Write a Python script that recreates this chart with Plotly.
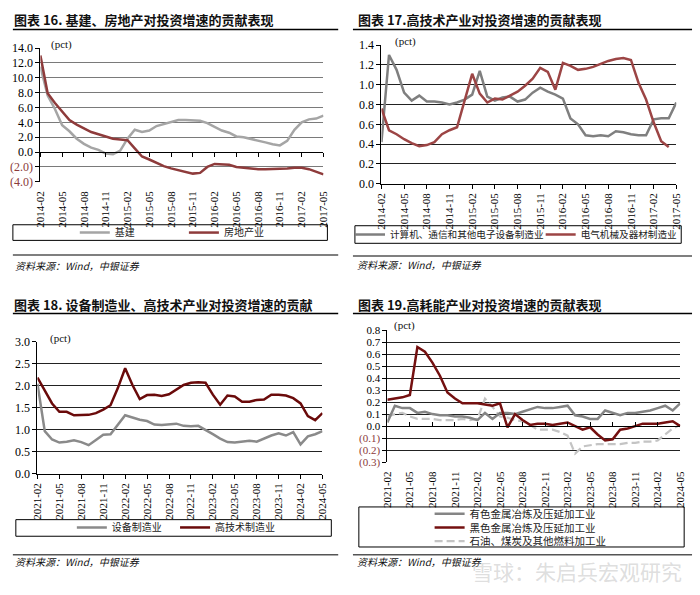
import plotly.graph_objects as go

W, H = 700, 595
SERIF = "Liberation Serif"
CJK = "Noto Sans CJK SC"
NEG = "#8b3a3a"


def px(x):
    return x / W


def py(y):
    return 1 - y / H


def month_labels(year, month, n):
    out = []
    for _ in range(n):
        out.append(f"{year}-{month:02d}")
        month += 1
        if month > 12:
            year, month = year + 1, 1
    return out


def fmt(v, nd):
    s = f"{abs(v):.{nd}f}"
    return f'<span style="color:{NEG}">({s})</span>' if v < 0 else s


months_a = month_labels(2014, 2, 40)
months_b = month_labels(2021, 2, 40)

# 图表16 基建、房地产 (pct)
infra = [11.5, 7.6, 5.8, 3.6, 2.8, 1.8, 1.1, 0.6, 0.3, -0.2, -0.3, 0.2, 1.8, 3.0,
         2.7, 2.9, 3.5, 3.8, 4.1, 4.3, 4.3, 4.3, 4.2, 3.9, 3.4, 2.9, 2.6, 2.1, 2.0,
         1.8, 1.5, 1.3, 1.05, 0.9, 1.5, 3.0, 4.0, 4.4, 4.5, 4.9]
realestate = [13.0, 7.9, 6.6, 5.5, 4.3, 3.7, 3.2, 2.7, 2.4, 2.1, 1.8, 1.7, 1.6, 0.5,
              -0.6, -1.0, -1.5, -1.9, -2.2, -2.4, -2.7, -2.9, -2.8, -2.0, -1.6, -1.6,
              -1.7, -2.0, -2.1, -2.2, -2.3, -2.3, -2.3, -2.3, -2.2, -2.1, -2.1, -2.3,
              -2.6, -3.0]

# 图表17 高技术产业
computers = [0.42, 1.30, 1.15, 0.92, 0.84, 0.89, 0.83, 0.83, 0.82, 0.80, 0.82, 0.85,
             0.90, 1.14, 0.88, 0.84, 0.87, 0.88, 0.83, 0.85, 0.92, 0.97, 0.93, 0.90,
             0.86, 0.66, 0.60, 0.49, 0.48, 0.49, 0.48, 0.53, 0.52, 0.50, 0.49, 0.49,
             0.65, 0.66, 0.66, 0.82]
electrical = [0.76, 0.54, 0.50, 0.45, 0.41, 0.38, 0.39, 0.42, 0.50, 0.54, 0.57, 0.85,
              1.11, 0.91, 0.82, 0.86, 0.85, 0.89, 0.93, 0.99, 1.06, 1.17, 1.13, 0.95,
              1.22, 1.19, 1.15, 1.16, 1.18, 1.21, 1.24, 1.26, 1.27, 1.25, 1.02, 0.85,
              0.62, 0.43, 0.37, None]

# 图表18 设备制造业、高技术制造业
equipment = [2.05, 0.97, 0.78, 0.71, 0.73, 0.76, 0.72, 0.65, 0.77, 0.89, 0.90, 1.12,
             1.33, 1.28, 1.23, 1.20, 1.12, 1.11, 1.12, 1.14, 1.09, 1.08, 1.09, 1.00,
             0.90, 0.80, 0.72, 0.71, 0.73, 0.75, 0.73, 0.80, 0.87, 0.92, 0.87, 0.95,
             0.67, 0.85, 0.90, 0.97]
hightech = [2.19, 1.90, 1.60, 1.41, 1.41, 1.33, 1.33, 1.34, 1.38, 1.46, 1.56, 1.95,
            2.40, 2.02, 1.70, 1.79, 1.80, 1.77, 1.81, 1.91, 2.02, 2.07, 2.08, 2.07,
            1.80, 1.57, 1.78, 1.76, 1.64, 1.64, 1.68, 1.69, 1.80, 1.80, 1.78, 1.72,
            1.60, 1.31, 1.22, 1.38]

# 图表19 高耗能产业
nonferrous = [0.03, 0.17, 0.15, 0.15, 0.11, 0.12, 0.10, 0.09, 0.09, 0.08, 0.08, 0.07,
              0.05, 0.11, 0.06, 0.11, 0.11, 0.10, 0.12, 0.14, 0.16, 0.15, 0.15, 0.16,
              0.17, 0.09, 0.08, 0.06, 0.06, 0.13, 0.11, 0.09, 0.11, 0.11, 0.12, 0.13,
              0.15, 0.17, 0.13, 0.19]
ferrous = [0.22, 0.23, 0.24, 0.26, 0.66, 0.62, 0.53, 0.42, 0.28, 0.23, 0.19, 0.19,
           0.19, 0.18, 0.17, 0.19, -0.01, 0.10, 0.05, 0.01, 0.02, 0.02, 0.01, 0.02,
           0.03, 0.00, -0.03, -0.01, -0.07, -0.12, -0.11, -0.03, -0.02, 0.00, 0.02,
           0.02, 0.02, 0.03, 0.04, 0.00]
petroleum = [0.08, 0.10, 0.11, 0.08, 0.06, 0.06, 0.06, 0.05, 0.05, 0.05, 0.06, 0.05,
             0.06, 0.23, 0.16, 0.08, 0.07, 0.05, 0.04, 0.01, -0.03, -0.03, -0.03, -0.05,
             -0.08, -0.23, -0.17, -0.16, -0.15, -0.15, -0.15, -0.15, -0.14, -0.14,
             -0.13, -0.13, -0.12, -0.07, -0.02, 0.01]

ticks16 = [-4, -2, 0, 2, 4, 6, 8, 10, 12, 14]
ticks17 = [0, 0.2, 0.4, 0.6, 0.8, 1.0, 1.2, 1.4]
ticks18 = [0, 0.5, 1.0, 1.5, 2.0, 2.5, 3.0]
ticks19 = [-0.3, -0.2, -0.1, 0, 0.1, 0.2, 0.3, 0.4, 0.5, 0.6, 0.7, 0.8]

# plot boxes in pixels: left, top, right, bottom
box1 = (35, 42, 323, 179)
box2 = (382, 39, 682, 181)
box3 = (32, 343, 322, 478)
box4 = (388, 331, 686, 466)

fig = go.Figure()


def line(x, y, name, color, ax, legend, width=2.5, dash="solid"):
    fig.add_trace(go.Scatter(
        x=x, y=y, name=name, mode="lines", xaxis=ax[0], yaxis=ax[1],
        legend=legend, line=dict(color=color, width=width, dash=dash),
        connectgaps=False, hoverinfo="x+y+name"))


line(months_a, infra, "基建", "#a5a5a5", ("x", "y"), "legend")
line(months_a, realestate, "房地产业", "#8e3b3b", ("x", "y"), "legend2")
line(months_a, computers, "计算机、通信和其他电子设备制造业", "#7f7f7f", ("x2", "y2"), "legend3")
line(months_a, electrical, "电气机械及器材制造业", "#9c4545", ("x2", "y2"), "legend4")
line(months_b, equipment, "设备制造业", "#8a8a8a", ("x3", "y3"), "legend5")
line(months_b, hightech, "高技术制造业", "#6a0a0a", ("x3", "y3"), "legend6")
line(months_b, petroleum, "石油、煤炭及其他燃料加工业", "#c4c4c4", ("x4", "y4"), "legend9", 2.2, "8px,4px")
line(months_b, nonferrous, "有色金属冶炼及压延加工业", "#858585", ("x4", "y4"), "legend7")
line(months_b, ferrous, "黑色金属冶炼及压延加工业", "#741010", ("x4", "y4"), "legend8")

# empty traces that carry the zero-line axes of panels 16 and 19
fig.add_trace(go.Scatter(x=months_a, y=[None] * len(months_a), xaxis="x5", yaxis="y",
                         showlegend=False, hoverinfo="skip"))
fig.add_trace(go.Scatter(x=months_b, y=[None] * len(months_b), xaxis="x6", yaxis="y4",
                         showlegend=False, hoverinfo="skip"))


def xaxis(box, ya, months, show_line=True):
    return dict(
        domain=[px(box[0]), px(box[2])], anchor=ya, type="category",
        range=[0, len(months) - 1], tickvals=months[::3], tickangle=-90,
        ticks="outside", ticklen=4,
        tickcolor="black" if show_line else "rgba(0,0,0,0)",
        showline=show_line, linecolor="black", linewidth=1, showgrid=False,
        tickfont=dict(family=SERIF, size=11, color="black"), fixedrange=True)


def zero_axis(base, box, rng, months, ticks):
    zero_px = box[3] - (box[3] - box[1]) * (0 - rng[0]) / (rng[1] - rng[0])
    return dict(
        overlaying=base, anchor="free", position=py(zero_px), type="category",
        range=[0, len(months) - 1], tickvals=months[::3], showticklabels=False,
        ticks=ticks, ticklen=4, tickcolor="black", showline=True,
        linecolor="black", linewidth=1, showgrid=False, fixedrange=True)


def yaxis(box, xa, rng, ticks, nd, grid, size=12):
    return dict(
        domain=[py(box[3]), py(box[1])], anchor=xa, range=rng,
        tickvals=ticks, ticktext=[fmt(v, nd) for v in ticks],
        showgrid=True, gridcolor=grid, gridwidth=1, zeroline=False,
        showline=True, linecolor="black", linewidth=1, ticks="outside",
        ticklen=4, tickcolor="black",
        tickfont=dict(family=SERIF, size=size, color="black"), fixedrange=True)


rng1, rng4 = [-4, 14], [-0.3, 0.8]

layout = dict(
    width=W, height=H, margin=dict(l=0, r=0, t=0, b=0),
    paper_bgcolor="white", plot_bgcolor="white",
    xaxis=xaxis(box1, "y", months_a, show_line=False),
    xaxis2=xaxis(box2, "y2", months_a),
    xaxis3=xaxis(box3, "y3", months_b),
    xaxis4=xaxis(box4, "y4", months_b, show_line=False),
    xaxis5=zero_axis("x", box1, rng1, months_a, "outside"),
    xaxis6=zero_axis("x4", box4, rng4, months_b, "inside"),
    yaxis=yaxis(box1, "x", rng1, ticks16, 1, "#7a7a7a"),
    yaxis2=yaxis(box2, "x2", [0, 1.4], ticks17, 1, "#222222"),
    yaxis3=yaxis(box3, "x3", [0, 3], ticks18, 1, "#222222"),
    yaxis4=yaxis(box4, "x4", rng4, ticks19, 1, "#222222", size=11),
)

# one legend per entry so each sits where the original puts it
legend_pos = {
    "legend": (75, 231, 10),
    "legend2": (186, 231, 10),
    "legend3": (355, 233, 9.6),
    "legend4": (549, 233, 9.6),
    "legend5": (72, 533, 10),
    "legend6": (177, 533, 10),
    "legend7": (436, 519, 10.5),
    "legend8": (436, 533, 10.5),
    "legend9": (436, 547, 10.5),
}
for key, (lx, ly, size) in legend_pos.items():
    layout[key] = dict(
        x=px(lx - 5), y=py(ly), xanchor="left", yanchor="middle",
        orientation="h", bgcolor="rgba(0,0,0,0)", borderwidth=0,
        font=dict(family=CJK, size=size, color="#222"), itemwidth=30)

fig.update_layout(**layout)


def hline(x0, x1, y, color="black", width=1.5):
    fig.add_shape(type="line", xref="paper", yref="paper",
                  x0=px(x0), x1=px(x1), y0=py(y), y1=py(y),
                  line=dict(color=color, width=width))


def frame(x0, y0, x1, y1):
    fig.add_shape(type="rect", xref="paper", yref="paper",
                  x0=px(x0), x1=px(x1), y0=py(y1), y1=py(y0),
                  line=dict(color="black", width=1), fillcolor="rgba(0,0,0,0)")


def text(x, y, s, size, family=CJK, color="#111", anchor="left"):
    fig.add_annotation(xref="paper", yref="paper", x=px(x), y=py(y), text=s,
                       showarrow=False, xanchor=anchor, yanchor="middle",
                       font=dict(family=family, size=size, color=color))


# titles
text(6, 13, "<b>图表 16. 基建、房地产对投资增速的贡献表现</b>", 13)
text(356, 13, "<b>图表 17.高技术产业对投资增速的贡献表现</b>", 13)
text(6, 305, "<b>图表 18. 设备制造业、高技术产业对投资增速的贡献</b>", 13)
text(356, 305, "<b>图表 19.高耗能产业对投资增速的贡献表现</b>", 13)
hline(7, 338, 23)
hline(353, 698, 23)
hline(7, 338, 314)
hline(353, 698, 314)

# unit labels
text(44, 38, "(pct)", 11, SERIF)
text(394, 35, "(pct)", 11, SERIF)
text(43, 339, "(pct)", 11, SERIF)
text(393, 326, "(pct)", 11, SERIF)

# legend frames
frame(7, 223, 327, 239)
frame(355, 224, 687, 242)
frame(10, 525, 331, 542)
frame(359, 512, 690, 553)

# sources
hline(7, 338, 254, "#555", 1.5)
hline(353, 698, 255, "#555", 1.5)
hline(7, 338, 561, "#555", 1.5)
hline(353, 698, 561, "#555", 1.5)
text(7, 265, "<i>资料来源：Wind，中银证券</i>", 10)
text(355, 264, "<i>资料来源：Wind，中银证券</i>", 10)
text(7, 568, "<i>资料来源：Wind，中银证券</i>", 10)
text(355, 568, "<i>资料来源：Wind，中银证券</i>", 10)

# watermark
text(690, 578, "雪球：朱启兵宏观研究", 21, CJK, "rgba(170,170,170,0.4)", "right")

fig.write_html("out.html", config={"displayModeBar": False},
               post_script="document.body.style.margin='0';")
